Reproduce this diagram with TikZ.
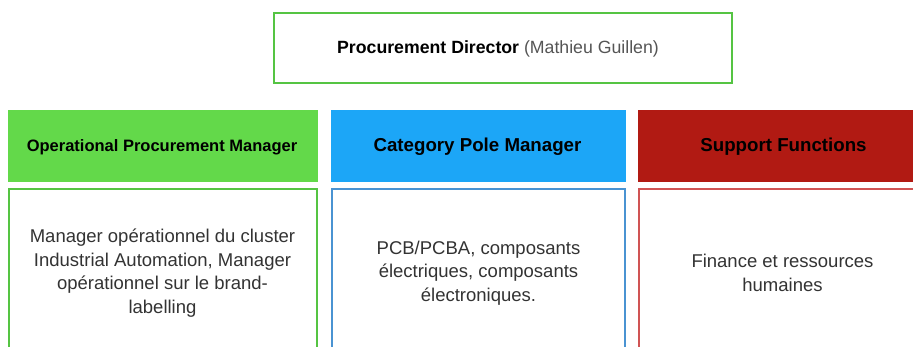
\documentclass[tikz,border=0pt]{standalone}
\usepackage{fontspec}
\setmainfont{Liberation Sans}
\definecolor{gfill}{HTML}{63D94A}
\definecolor{gline}{HTML}{55C443}
\definecolor{bfill}{HTML}{1CA6F7}
\definecolor{bline}{HTML}{4A93D2}
\definecolor{rfill}{HTML}{B11A13}
\definecolor{rline}{HTML}{D05454}
\definecolor{bodytxt}{HTML}{333333}
\definecolor{graytxt}{HTML}{555555}
\begin{document}
\begin{tikzpicture}[x=1pt,y=-1pt,
  head/.style={font=\fontsize{18.7}{22}\selectfont\bfseries, text=black},
  body/.style={font=\fontsize{18.5}{23.5}\selectfont, text=bodytxt, align=center}]
\useasboundingbox (0,0) rectangle (913,347);
\fill[white] (0,0) rectangle (913,347);
% top box
\draw[gline, line width=1.8pt] (274,13) rectangle (732,83);
\node (dir) at (498,49) {\fontsize{17.7}{20}\selectfont\textbf{Procurement Director} \textcolor{graytxt}{(Mathieu Guillen)}};
% headers
\fill[gfill] (8,110) rectangle (318,182);
\fill[bfill] (331,110) rectangle (626,182);
\fill[rfill] (638,110) rectangle (913,182);
\node[head, font=\fontsize{16.5}{20}\selectfont\bfseries] (h1) at (162,147) {Operational Procurement Manager};
\node[head] (h2) at (477.5,147) {Category Pole Manager};
\node[head] (h3) at (783.5,147) {Support Functions};
% bodies
\draw[gline, line width=1.8pt] (9,189) rectangle (317,360);
\draw[bline, line width=1.8pt] (332,189) rectangle (625,360);
\draw[rline, line width=1.8pt] (639,189) rectangle (930,360);
\node[body] (b1) at (162.5,273) {Manager opérationnel du cluster\\Industrial Automation, Manager\\opérationnel sur le brand-\\labelling};
\node[body] (b2) at (478.5,273) {PCB/PCBA, composants\\électriques, composants\\électroniques.};
\node[body] (b3) at (782.5,273) {Finance et ressources\\humaines};
\end{tikzpicture}
\end{document}
